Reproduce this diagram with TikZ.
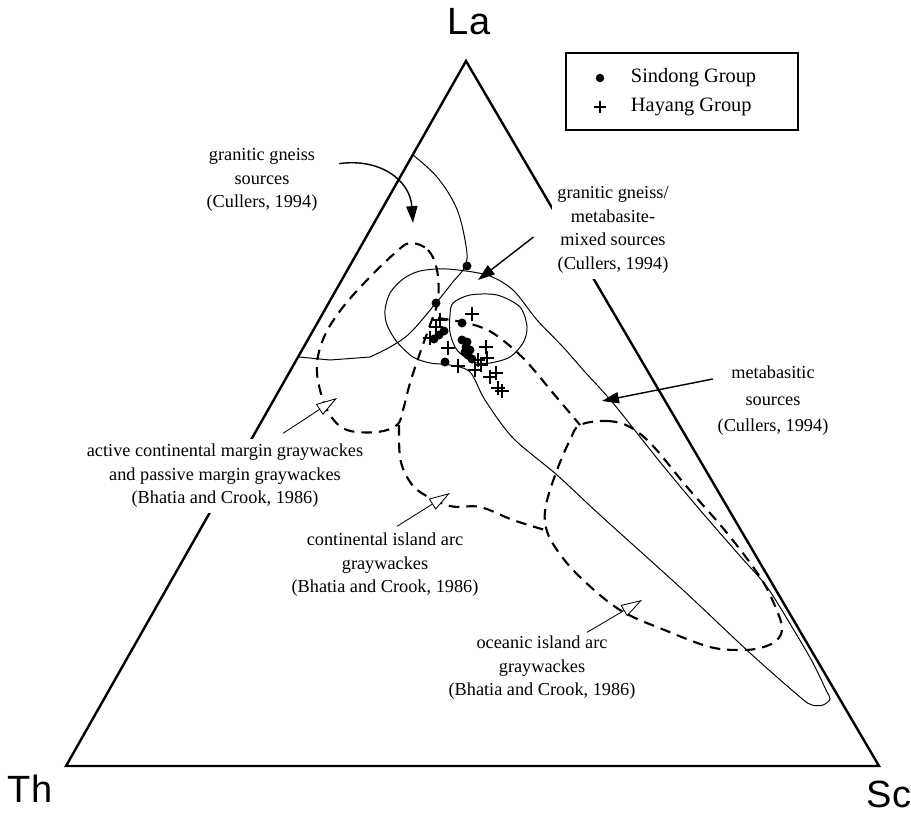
\documentclass[tikz,border=0pt]{standalone}
\usepackage{fontspec}
\setmainfont{Liberation Serif}
\newfontfamily\cornerfont{Liberation Sans}
\usetikzlibrary{arrows.meta,calc}

\tikzset{
    field/.style={line width=0.7pt},
    fielddash/.style={line width=1.5pt, dash pattern=on 7.5pt off 5pt},
    pointer/.style={line width=1pt, -{Triangle[length=12pt,width=8pt]}},
    openpointer/.style={line width=0.6pt, -{Triangle[length=15pt,width=9pt,fill=white]}},
    lbl/.style={align=center, fill=white, inner sep=4pt, font=\fontsize{13}{16.7}\selectfont},
    legendtext/.style={anchor=west, font=\fontsize{14.5}{17}\selectfont},
    corner/.style={inner sep=0pt, font=\cornerfont\fontsize{27}{30}\selectfont},
    hayang/.style={line width=1.6pt},
}

\begin{document}
\begin{tikzpicture}[x=0.025cm,y=-0.025cm]
    \useasboundingbox (0,0) rectangle (911,815);

    % Triangle:
    \coordinate (La) at (466,61);
    \coordinate (Th) at (66,766);
    \coordinate (Sc) at (879,766);
    \draw [line width=1.7pt] (La) -- (Th) -- (Sc) -- cycle;
    \node [corner] (la label) at (469,22)  {La};
    \node [corner] (th label) at (30,789)  {Th};
    \node [corner] (sc label) at (889,794) {Sc};

    % Legend:
    \draw [line width=0.8pt] (566,53) rectangle (798,130);
    \fill (600,78) circle (3pt);
    \node [legendtext] (sindong) at (626,78) {Sindong Group};
    \draw [hayang] (600,107) +(-6,0) -- +(6,0) +(0,-6) -- +(0,6);
    \node [legendtext] (hayang) at (626,107) {Hayang Group};

    % Solid fields (Cullers):
    \draw [field] plot [smooth, tension=0.6] coordinates {(413,155) (437,177) (456,207) (465,240) (466,264) (452,283) (436,303) (410,333) (390,347) (370,357)} -- (330,360) -- (299,357);
    \draw [field] plot [smooth cycle, tension=0.5] coordinates {(447,269) (487,275) (513,290) (537,320) (563,347) (585,372) (613,403) (660,462) (700,510) (740,556) (767,587) (795,632) (813,663) (826,690) (830,699) (823,705) (812,705) (800,697) (750,653) (683,590) (600,515) (557,475) (513,438) (485,400) (470,372) (450,365) (430,363) (413,357) (397,342) (387,325) (385,310) (390,293) (403,279) (420,271)};
    \draw [field] plot [smooth cycle] coordinates {(453,303) (470,295) (497,295) (520,307) (527,327) (523,343) (510,357) (490,363) (473,362) (457,350) (450,333) (450,315)};

    % Dashed fields (Bhatia and Crook):
    \draw [fielddash] plot [smooth cycle, tension=0.6] coordinates {(410,243) (428,250) (437,270) (438,300) (430,325) (420,353) (410,383) (403,410) (397,425) (377,432) (347,430) (330,415) (320,390) (317,363) (325,335) (343,307) (370,277) (395,253)};
    \draw [fielddash] plot [smooth, tension=0.6] coordinates {(399,425) (400,457) (407,477) (420,492) (450,506) (480,507) (513,520) (545,530)};
    \draw [fielddash] plot [smooth, tension=0.6] coordinates {(438,318) (462,322) (483,328) (500,338) (525,360) (553,393) (580,425)};
    \draw [fielddash] plot [smooth cycle, tension=0.6] coordinates {(580,425) (607,421) (630,427) (653,446) (687,487) (727,533) (760,577) (775,606) (782,628) (776,641) (760,648) (740,650) (710,647) (667,631) (620,610) (580,577) (557,550) (546,528) (546,505) (557,470) (570,440)};

    % Samples:
    \foreach \x/\y in {467/266, 436/303, 462/323, 444/331, 439/335, 434/339, 445/362, 462/340, 467/342, 466/347, 470/350, 468/355, 472/359, 465/352}
        \fill (\x,\y) circle (3.2pt);
    \foreach \x/\y in {440/320, 472/314, 430/338, 448/348, 486/347, 458/366, 475/370, 481/365, 487/358, 490/377, 496/373, 498/388, 502/391, 478/360, 436/327}
        \draw [hayang] (\x,\y) +(-7,0) -- +(7,0) +(0,-7) -- +(0,7);

    % Labels and their arrows:
    \node [lbl] (gneiss) at (262,180) {granitic gneiss\\sources\\(Cullers, 1994)};
    \node [lbl] (mixed) at (613,230) {granitic gneiss/\\metabasite-\\mixed sources\\(Cullers, 1994)};
    \node [lbl, font=\fontsize{13}{18.8}\selectfont] (metabasic) at (773,401) {metabasitic\\sources\\(Cullers, 1994)};
    \node [lbl] (activemargin) at (225,476) {active continental margin graywackes\\and passive margin graywackes\\(Bhatia and Crook, 1986)};
    \node [lbl] (contarc) at (385,565) {continental island arc\\graywackes\\(Bhatia and Crook, 1986)};
    \node [lbl] (oceanarc) at (542,668) {oceanic island arc\\graywackes\\(Bhatia and Crook, 1986)};

    \coordinate (gneiss tip) at (413,223);
    \coordinate (mixed tip) at (478,280);
    \coordinate (metabasic tip) at (602,401);
    \coordinate (activemargin tip) at (337,398);
    \coordinate (contarc tip) at (450,493);
    \coordinate (oceanarc tip) at (642,600);

    \draw [pointer] ($(gneiss.north east)+(16,21)$) .. controls (380,158) and (410,180) .. (gneiss tip);
    \draw [pointer] ($(mixed.west)+(-18,7)$) -- (mixed tip);
    \draw [pointer] ($(metabasic.west)+(1,-22)$) -- (metabasic tip);
    \draw [openpointer] ($(activemargin.north)+(58,-5)$) -- (activemargin tip);
    \draw [openpointer] ($(contarc.north)+(12,-1)$) -- (contarc tip);
    \draw [openpointer] ($(oceanarc.north)+(45,2)$) -- (oceanarc tip);
\end{tikzpicture}
\end{document}
